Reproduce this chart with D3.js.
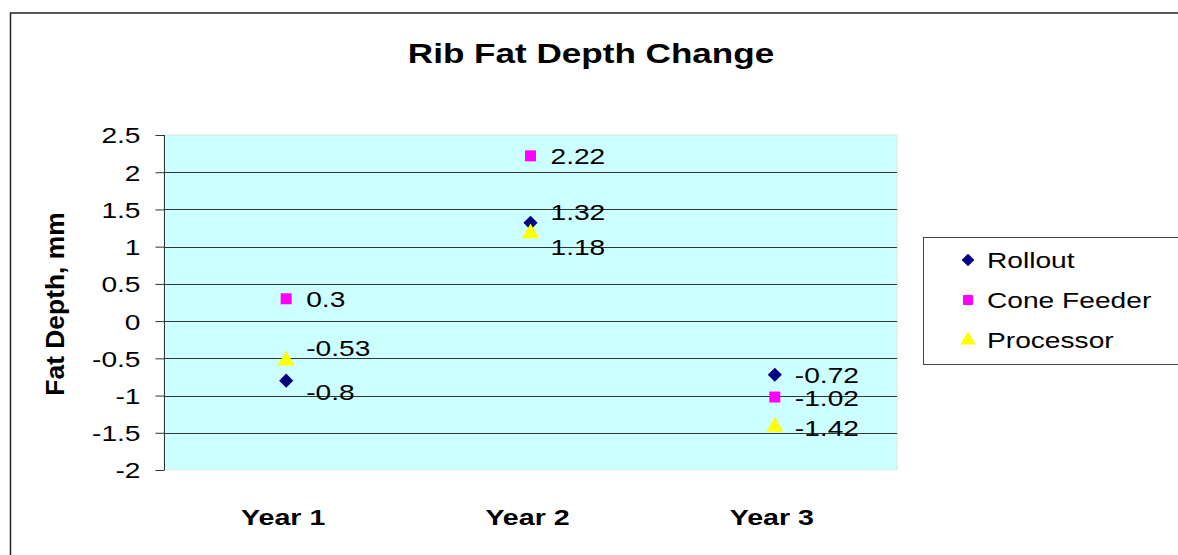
<!DOCTYPE html>
<html>
<head>
<meta charset="utf-8">
<script src="https://cdn.jsdelivr.net/npm/d3@7"></script>
<style>
  body { margin: 0; background: #fff; }
  text { font-family: "Liberation Sans", Arial, sans-serif; fill: #000; }
</style>
</head>
<body>
<div id="chart"></div>
<script>
const width = 1178;
const height = 555;

// data
const years = ["Year 1", "Year 2", "Year 3"];
const rollout = [-0.8, 1.32, -0.72];
const coneFeeder = [0.3, 2.22, -1.02];
const processor = [-0.53, 1.18, -1.42];
const yTicks = [-2, -1.5, -1, -0.5, 0, 0.5, 1, 1.5, 2, 2.5];
const seriesNames = ["Rollout", "Cone Feeder", "Processor"];

// label nudges so overlapping labels stay readable (px, per series per year)
const labelNudge = {
    "Rollout": [11, -11, 0],
    "Cone Feeder": [0, 0, 1],
    "Processor": [-12, 14, 1]
};

const series = [
    { name: "Rollout", values: rollout, color: "#000080", shape: "diamond" },
    { name: "Cone Feeder", values: coneFeeder, color: "#ff00ff", shape: "square" },
    { name: "Processor", values: processor, color: "#ffff00", shape: "triangle" }
];

// old excel output is stretched sideways, fake it with a scale on text
const sx = 1.28;
const fs = 22;

const plot = { left: 164, right: 897, top: 135, bottom: 470 };

const svg = d3.select("#chart")
    .append("svg")
    .attr("width", width)
    .attr("height", height);

// outer chart frame (runs off the right and bottom)
svg.append("rect")
    .attr("x", 10.5).attr("y", 13)
    .attr("width", 1200).attr("height", 600)
    .attr("fill", "none")
    .attr("stroke", "#222")
    .attr("stroke-width", 1.5);

const x = d3.scaleBand().domain(years).range([plot.left, plot.right]);
const y = d3.scaleLinear().domain([-2, 2.5]).range([plot.bottom, plot.top]);

// plot background
svg.append("rect")
    .attr("x", plot.left).attr("y", plot.top)
    .attr("width", plot.right - plot.left)
    .attr("height", plot.bottom - plot.top)
    .attr("fill", "#ccffff")
    .attr("stroke", "#e2e2e2");

// gridlines
svg.append("g")
    .selectAll("line")
    .data(yTicks.filter(d => d > -2 && d < 2.5))
    .enter()
    .append("line")
    .attr("x1", plot.left).attr("x2", plot.right)
    .attr("y1", d => Math.round(y(d)) + 0.5)
    .attr("y2", d => Math.round(y(d)) + 0.5)
    .attr("stroke", "#333")
    .attr("stroke-width", 1);

// y axis
const yAxis = svg.append("g")
    .attr("transform", `translate(${plot.left + 0.5},0)`)
    .call(d3.axisLeft(y).tickValues(yTicks).tickSize(9).tickFormat(d3.format("")));
yAxis.select(".domain").attr("stroke", "#333").attr("d", `M-0,${plot.top}V${plot.bottom}`);
yAxis.selectAll(".tick line").attr("stroke", "#333");
yAxis.selectAll(".tick text")
    .attr("font-size", fs)
    .attr("font-family", "Liberation Sans, Arial, sans-serif")
    .attr("x", -24 / sx)
    .attr("dy", "0.36em")
    .attr("transform", `scale(${sx},1)`)
    .text(d => d < 0 ? "-" + Math.abs(d) : d);

// x category labels
svg.append("g")
    .selectAll("text")
    .data(years)
    .enter()
    .append("text")
    .attr("transform", d => `translate(${x(d) + x.bandwidth() / 2 - 3},525) scale(1.3,1)`)
    .attr("text-anchor", "middle")
    .attr("font-size", 22)
    .attr("font-weight", "bold")
    .text(d => d);

// title
svg.append("text")
    .attr("transform", "translate(591,63) scale(1.3,1)")
    .attr("text-anchor", "middle")
    .attr("font-size", 27)
    .attr("font-weight", "bold")
    .text("Rib Fat Depth Change");

// y axis title
svg.append("text")
    .attr("transform", "translate(64,304) rotate(-90) scale(1.2,1.2)")
    .attr("text-anchor", "middle")
    .attr("font-size", 22)
    .attr("font-weight", "bold")
    .text("Fat Depth, mm");

function markerPath(shape, big) {
    const k = big ? 1 : 0.9;
    if (shape === "diamond") return d3.symbol(d3.symbolSquare, 100 * k * k)();
    if (shape === "square") return d3.symbol(d3.symbolSquare, 121 * k * k)();
    return d3.symbol(d3.symbolTriangle, 125 * k * k)();
}

// points + labels
series.forEach(s => {
    const g = svg.append("g");
    g.selectAll("path")
        .data(s.values)
        .enter()
        .append("path")
        .attr("d", markerPath(s.shape, true))
        .attr("transform", (d, i) => {
            const cx = x(years[i]) + x.bandwidth() / 2;
            return `translate(${cx},${y(d)})` + (s.shape === "diamond" ? " rotate(45)" : "");
        })
        .attr("fill", s.color);

    g.selectAll("text")
        .data(s.values)
        .enter()
        .append("text")
        .attr("transform", (d, i) => {
            const cx = x(years[i]) + x.bandwidth() / 2 + 20;
            return `translate(${cx},${y(d) + labelNudge[s.name][i]}) scale(${sx},1)`;
        })
        .attr("dy", "0.36em")
        .attr("font-size", fs)
        .text(d => d);
});

// legend
const legend = svg.append("g");
legend.append("rect")
    .attr("x", 923.5).attr("y", 237.5)
    .attr("width", 300).attr("height", 127)
    .attr("fill", "#fff")
    .attr("stroke", "#444");

const legendRows = legend.selectAll("g.row")
    .data(series)
    .enter()
    .append("g")
    .attr("class", "row")
    .attr("transform", (d, i) => `translate(968,${260 + i * 40})`);

legendRows.append("path")
    .attr("d", d => markerPath(d.shape, false))
    .attr("transform", d => d.shape === "diamond" ? "rotate(45)" : "")
    .attr("fill", d => d.color);

legendRows.append("text")
    .attr("transform", `translate(19,0) scale(${sx},1)`)
    .attr("dy", "0.36em")
    .attr("font-size", fs)
    .text(d => d.name);
</script>
</body>
</html>
